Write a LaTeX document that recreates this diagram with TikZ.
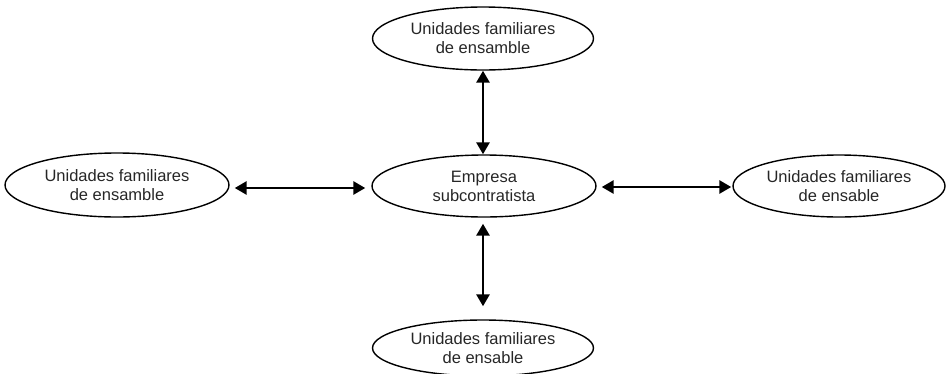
\documentclass[tikz,border=0pt]{standalone}
\usepackage{fontspec}
\setmainfont{Liberation Sans}
\usetikzlibrary{shapes.geometric,arrows.meta}
\tikzset{
  ell/.style={ellipse, draw=black, line width=1.4pt, inner sep=0pt, text=black!85,
    align=center, font=\fontsize{16.5}{19}\selectfont},
  link/.style={line width=2.8pt, {Triangle[length=12pt,width=13pt]}-{Triangle[length=12pt,width=13pt]}}
}
\begin{document}
\begin{tikzpicture}[x=1pt,y=-1pt]
\useasboundingbox (0,0) rectangle (946,373);
\node[ell, minimum width=221pt, minimum height=63pt] (top) at (483,38.5) {Unidades familiares\\de ensamble};
\node[ell, minimum width=224pt, minimum height=62pt] (mid) at (484,186) {Empresa\\subcontratista};
\node[ell, minimum width=224pt, minimum height=64pt] (left) at (117,185) {Unidades familiares\\de ensamble};
\node[ell, minimum width=212pt, minimum height=62pt] (right) at (839,186) {Unidades familiares\\de ensable};
\node[ell, minimum width=221pt, minimum height=56pt] (bot) at (483,348) {Unidades familiares\\de ensable};
\draw[link] (top.south) -- (top.south |- mid.north);
\draw[link, shorten <=6pt, shorten >=13pt] (bot.north |- mid.south) -- (bot.north);
\draw[link, shorten <=5pt, shorten >=6pt] (left.east |- 0,188) -- (mid.west |- 0,188);
\draw[link, shorten <=5pt, shorten >=1pt] (mid.east |- 0,187) -- (right.west |- 0,187);
\end{tikzpicture}
\end{document}
